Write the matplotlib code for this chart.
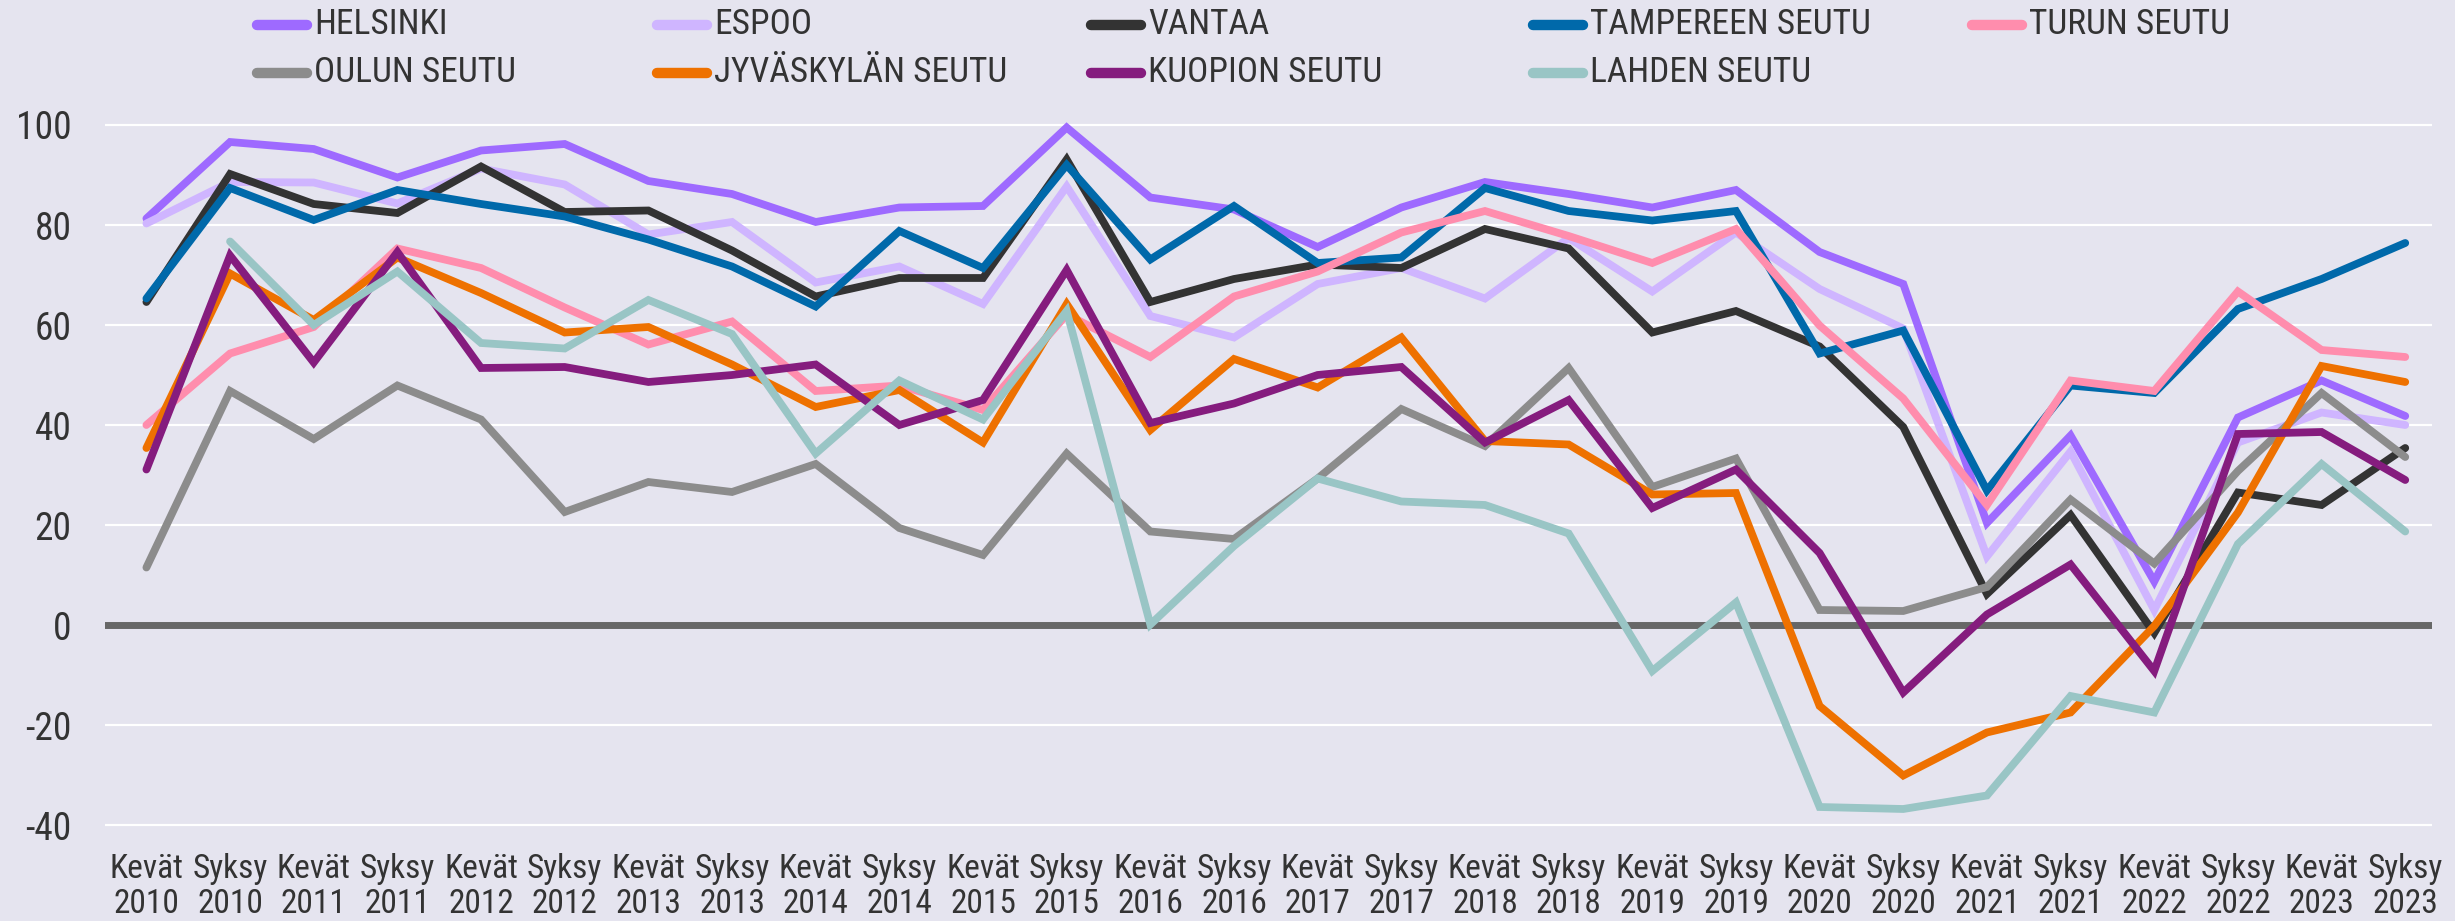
import numpy as np
import matplotlib
matplotlib.use("Agg")
import matplotlib.pyplot as plt
from matplotlib import font_manager
from matplotlib.lines import Line2D

# ---------------- data ----------------
seasons = ["Kevät", "Syksy"] * 14
years = [str(y) for y in range(2010, 2024) for _ in range(2)]
tick_labels = [f"{s}\n{y}" for s, y in zip(seasons, years)]

helsinki = [81.3, 96.6, 95.2, 89.5, 94.9, 96.2, 88.8, 86.2, 80.6, 83.5, 83.8, 99.5, 85.5, 83.1,
            75.6, 83.5, 88.6, 86.2, 83.5, 87.0, 74.6, 68.2, 20.4, 37.9, 8.7, 41.5, 48.9, 41.8]
espoo = [80.3, 88.6, 88.5, 84.3, 91.3, 88.1, 78.1, 80.6, 68.5, 71.7, 64.2, 87.7, 61.8, 57.5,
         68.2, 71.4, 65.3, 77.4, 66.7, 78.5, 67.2, 59.3, 13.7, 34.7, 3.0, 36.5, 42.5, 40.0]
vantaa = [64.6, 90.2, 84.2, 82.4, 91.7, 82.6, 82.9, 74.9, 65.7, 69.4, 69.4, 93.1, 64.6, 69.2,
          72.1, 71.4, 79.2, 75.3, 58.5, 62.8, 55.7, 39.6, 6.2, 22.0, -1.6, 26.5, 24.0, 35.4]
tampere = [65.3, 87.4, 81.0, 87.0, 84.2, 81.7, 77.1, 71.7, 63.7, 78.8, 71.4, 92.0, 73.1, 83.8,
           72.4, 73.5, 87.4, 82.8, 80.9, 82.8, 54.3, 58.9, 26.9, 47.9, 46.4, 63.2, 69.2, 76.4]
turku = [40.0, 54.3, 59.6, 75.3, 71.4, 63.5, 56.1, 60.7, 46.8, 47.9, 43.0, 62.1, 53.6, 65.7,
         70.7, 78.5, 82.8, 77.8, 72.4, 79.2, 59.9, 45.3, 24.0, 48.9, 46.8, 66.7, 55.0, 53.6]
oulu = [11.5, 46.8, 37.2, 47.9, 41.1, 22.6, 28.6, 26.6, 32.2, 19.4, 14.0, 34.3, 18.7, 17.2,
        29.3, 43.2, 35.8, 51.4, 27.6, 33.3, 3.0, 2.8, 7.6, 25.1, 12.3, 30.8, 46.4, 33.6]
jyvaskyla = [35.4, 70.3, 61.0, 73.5, 66.4, 58.5, 59.6, 52.1, 43.6, 47.0, 36.5, 64.2, 39.0, 53.2,
             47.5, 57.5, 36.8, 36.1, 26.1, 26.4, -16.2, -30.1, -21.5, -17.5, -0.2, 22.5, 51.8, 48.6]
kuopio = [31.1, 73.9, 52.5, 74.6, 51.4, 51.6, 48.6, 50.0, 52.1, 40.0, 45.0, 71.0, 40.4, 44.3,
          50.0, 51.6, 36.5, 45.0, 23.4, 31.1, 14.4, -13.5, 2.1, 12.1, -9.2, 38.2, 38.6, 29.0]
lahti = [np.nan, 76.7, 60.0, 70.7, 56.4, 55.3, 65.0, 58.2, 34.3, 48.9, 41.1, 62.8, 0.1, 15.8,
         29.3, 24.7, 24.0, 18.3, -9.2, 4.5, -36.4, -36.8, -34.1, -14.2, -17.5, 16.2, 32.2, 18.7]

series_names = ["HELSINKI", "ESPOO", "VANTAA", "TAMPEREEN SEUTU", "TURUN SEUTU",
                "OULUN SEUTU", "JYVÄSKYLÄN SEUTU", "KUOPION SEUTU", "LAHDEN SEUTU"]
series_values = [helsinki, espoo, vantaa, tampere, turku, oulu, jyvaskyla, kuopio, lahti]
colors = ["#9E6AFF", "#CFB5FF", "#333333", "#0069AA", "#FF8DAD",
          "#8C8C8C", "#EE7100", "#851C7E", "#99C5C5"]
yticks = [-40, -20, 0, 20, 40, 60, 80, 100]

# ---------------- fonts ----------------
def pick_font(cands):
    for c in cands:
        try:
            font_manager.findfont(c, fallback_to_default=False)
            return c
        except Exception:
            pass
    return "DejaVu Sans"

fam = pick_font(["Liberation Sans Narrow", "Roboto Condensed", "Open Sans Condensed", "Lato"])
plt.rcParams["font.family"] = [fam, "DejaVu Sans"]

BG = "#E5E4EF"
TXT = "#333333"
W, H = 2455, 921
fig = plt.figure(figsize=(W / 100, H / 100), dpi=100, facecolor=BG)

# axes placement: y=100 at 125px, y=-40 at 825px
ymin, ymax = -45, 103
ppu = 5.0
ybot_px = 825 + (-40 - ymin) * ppu
ytop_px = 125 - (ymax - 100) * ppu
left_px, right_px = 105, 2432
ax = fig.add_axes([left_px / W, 1 - ybot_px / H, (right_px - left_px) / W, (ybot_px - ytop_px) / H])
ax.set_facecolor(BG)

x = np.arange(len(tick_labels))
ax.set_xlim(-0.495, 27.32)
ax.set_ylim(ymin, ymax)

for yv in yticks:
    if yv == 0:
        continue
    ax.axhline(yv, color="white", lw=1.6, zorder=1)
ax.axhline(0, color="#676767", lw=5, zorder=2)

for name, vals, c in zip(series_names, series_values, colors):
    ax.plot(x, vals, color=c, lw=5.6, solid_capstyle="round", solid_joinstyle="miter",
            zorder=3, label=name)

for s in ax.spines.values():
    s.set_visible(False)
ax.set_yticks(yticks)
ax.set_yticklabels([str(v) for v in yticks])
ax.set_xticks(x)
ax.set_xticklabels(tick_labels, linespacing=1.12)
ax.tick_params(axis="y", length=0, pad=24, labelsize=27, labelcolor=TXT)
ax.tick_params(axis="x", length=0, pad=2, labelsize=24, labelcolor=TXT)

# ---------------- legend (row-major, 5 columns) ----------------
col_x = [252, 652, 1086, 1528, 1967]
row_y = [25, 73]
hl = 60
for i, (name, c) in enumerate(zip(series_names, colors)):
    r, col = divmod(i, 5)
    x0 = col_x[col]
    y0 = row_y[r]
    fig.add_artist(Line2D([(x0 + 5) / W, (x0 + hl - 5) / W], [1 - y0 / H, 1 - y0 / H],
                          color=c, lw=7.5, solid_capstyle="round",
                          transform=fig.transFigure))
    fig.text((x0 + hl + 2) / W, 1 - y0 / H, name, fontsize=25.5, color=TXT,
             va="center", ha="left")

fig.savefig("out.png", dpi=100, facecolor=BG)
